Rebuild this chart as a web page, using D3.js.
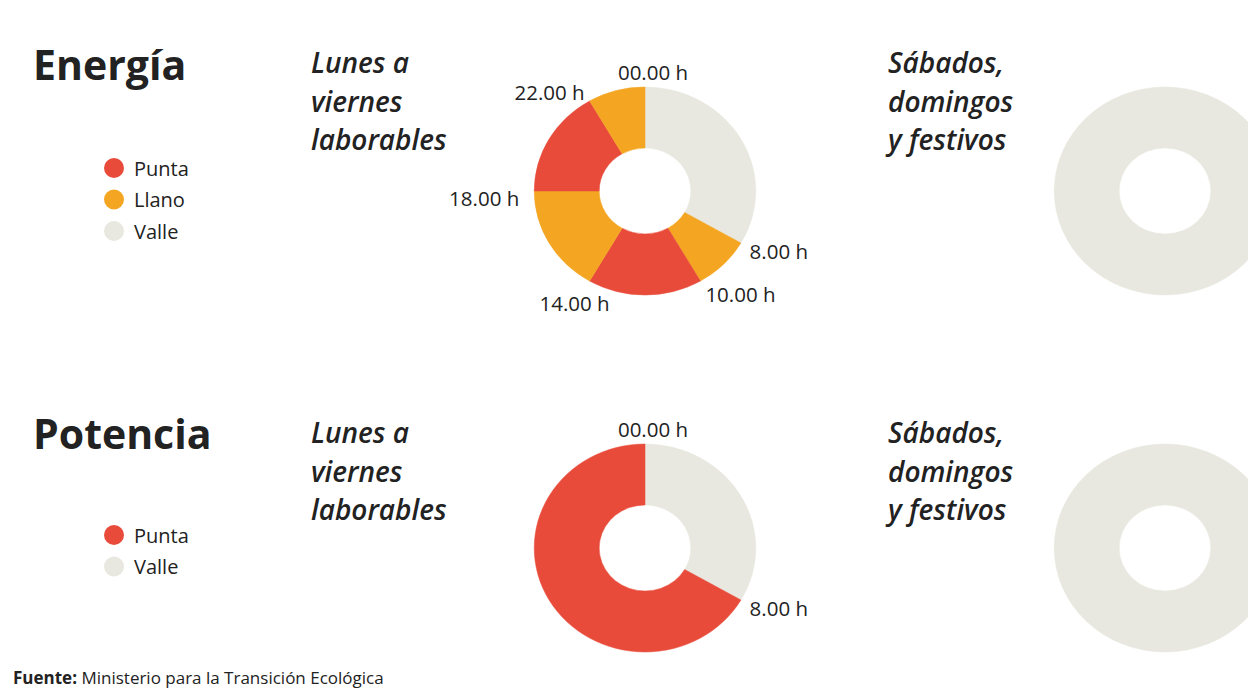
<!DOCTYPE html>
<html>
<head>
<meta charset="utf-8">
<script src="https://cdn.jsdelivr.net/npm/d3@7"></script>
<style>
  html, body { margin: 0; padding: 0; background: #fff; }
  svg { display: block; }
  text { font-family: "Open Sans", Lato, sans-serif; fill: #222; }
</style>
</head>
<body>
<svg id="chart" width="1248" height="698"></svg>
<script>
// ---------- DATA ----------
const periods = ["Punta", "Llano", "Valle"];
const periodColors = ["#e84b3a", "#f4a623", "#e8e8e0"];

// Energía, lunes a viernes laborables: hour boundaries and tariff period
const energyWeekdayStart = [0, 8, 10, 14, 18, 22];
const energyWeekdayEnd   = [8, 10, 14, 18, 22, 24];
const energyWeekdayPeriod = ["Valle", "Llano", "Punta", "Llano", "Punta", "Llano"];
const energyWeekdayLabels = ["00.00 h", "8.00 h", "10.00 h", "14.00 h", "18.00 h", "22.00 h"];

// Energía, sábados, domingos y festivos
const energyWeekendStart = [0];
const energyWeekendEnd = [24];
const energyWeekendPeriod = ["Valle"];

// Potencia, lunes a viernes laborables
const powerWeekdayStart = [0, 8];
const powerWeekdayEnd = [8, 24];
const powerWeekdayPeriod = ["Valle", "Punta"];
const powerWeekdayLabels = ["00.00 h", "8.00 h"];

// Potencia, sábados, domingos y festivos
const powerWeekendStart = [0];
const powerWeekendEnd = [24];
const powerWeekendPeriod = ["Valle"];

const sectionTitles = ["Energía", "Potencia"];
const dayTitleWeekday = ["Lunes a", "viernes", "laborables"];
const dayTitleWeekend = ["Sábados,", "domingos", "y festivos"];
const energyLegend = ["Punta", "Llano", "Valle"];
const powerLegend = ["Punta", "Valle"];
const sourceBold = "Fuente:";
const sourceText = " Ministerio para la Transición Ecológica";

// ---------- DRAWING ----------
const svg = d3.select("#chart");
const color = d3.scaleOrdinal().domain(periods).range(periodColors);
const angle = d3.scaleLinear().domain([0, 24]).range([0, 2 * Math.PI]);

const R = 104, r0 = 43, sx = 1.065;
const arc = d3.arc().innerRadius(r0).outerRadius(R);

// label nudges (layout only)
const nudge = { "00.00 h": [8, -5], "14.00 h": [25, 13], "18.00 h": [-5, 7], "10.00 h": [0, 4], "8.00 h": [0, 3] };

function donut(cx, cy, starts, ends, kinds, labels) {
  const g = svg.append("g").attr("transform", `translate(${cx},${cy})`);
  const segs = starts.map((s, i) => ({ s, e: ends[i], k: kinds[i] }));
  const pie = d3.pie().sort(null).value(d => d.e - d.s).startAngle(angle(0)).endAngle(angle(24));
  g.append("g").attr("transform", `scale(${sx},1)`)
    .selectAll("path").data(pie(segs)).join("path")
    .attr("d", arc)
    .attr("fill", d => color(d.data.k))
    .attr("stroke", d => color(d.data.k))
    .attr("stroke-width", 0.5);
  if (labels) {
    g.selectAll("text.lab").data(starts).join("text")
      .attr("class", "lab")
      .each(function (h, i) {
        const a = angle(h);
        const sn = Math.sin(a), cs = -Math.cos(a);
        const gap = 10;
        let x = (R * sn) * sx + gap * sn;
        let y = R * cs + gap * cs;
        const lab = labels[i];
        const n = nudge[lab] || [0, 0];
        const anchor = Math.abs(sn) < 0.3 ? "middle" : (sn > 0 ? "start" : "end");
        d3.select(this)
          .attr("x", x + n[0]).attr("y", y + n[1])
          .attr("text-anchor", anchor)
          .attr("dominant-baseline", "central")
          .attr("font-size", 20.5)
          .attr("fill", "#2a2a2a")
          .text(lab);
      });
  }
}

function dayTitle(x, y, lines) {
  svg.append("text")
    .attr("x", x).attr("y", y)
    .attr("font-size", 28).attr("font-weight", 600).attr("font-style", "italic")
    .attr("fill", "#1a1a1a")
    .selectAll("tspan").data(lines).join("tspan")
    .attr("x", x).attr("dy", (d, i) => i === 0 ? 0 : 38.5)
    .text(d => d);
}

function legend(x, y, items) {
  const g = svg.append("g");
  items.forEach((it, i) => {
    g.append("circle").attr("cx", x).attr("cy", y + i * 31.5).attr("r", 10).attr("fill", color(it));
    g.append("text").attr("x", x + 20).attr("y", y + i * 31.5).attr("dominant-baseline", "central")
      .attr("font-size", 20).attr("fill", "#2a2a2a").text(it);
  });
}

// Section titles
svg.append("text").attr("x", 33).attr("y", 80).attr("font-size", 41).attr("font-weight", 700).attr("fill", "#111").text(sectionTitles[0]);
svg.append("text").attr("x", 33).attr("y", 449).attr("font-size", 41).attr("font-weight", 700).attr("fill", "#111").text(sectionTitles[1]);

legend(114, 168, energyLegend);
legend(114, 535, powerLegend);

dayTitle(311, 73, dayTitleWeekday);
dayTitle(888, 73, dayTitleWeekend);
dayTitle(311, 443, dayTitleWeekday);
dayTitle(888, 443, dayTitleWeekend);

donut(645, 191, energyWeekdayStart, energyWeekdayEnd, energyWeekdayPeriod, energyWeekdayLabels);
donut(1165, 191, energyWeekendStart, energyWeekendEnd, energyWeekendPeriod, null);
donut(645, 548, powerWeekdayStart, powerWeekdayEnd, powerWeekdayPeriod, powerWeekdayLabels);
donut(1165, 548, powerWeekendStart, powerWeekendEnd, powerWeekendPeriod, null);

// Source
const src = svg.append("text").attr("x", 13).attr("y", 684).attr("font-size", 17).attr("fill", "#222");
src.append("tspan").attr("font-weight", 700).text(sourceBold);
src.append("tspan").text(sourceText);
</script>
</body>
</html>
